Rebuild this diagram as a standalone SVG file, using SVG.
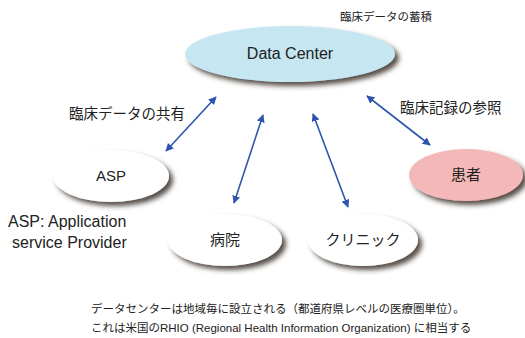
<svg xmlns="http://www.w3.org/2000/svg" width="525" height="338" viewBox="0 0 525 338">
<style>
text{font-family:"Liberation Sans","Noto Sans CJK JP",sans-serif;fill:#222}
.node{stroke:none}
.lbl{font-size:15px;text-anchor:middle}
.big{font-size:16px}
.conn line{stroke:#2d55ad;stroke-width:1.6;marker-start:url(#ah);marker-end:url(#ah)}
</style>
<defs>
<filter id="sh" x="-20%" y="-30%" width="150%" height="170%">
<feGaussianBlur in="SourceAlpha" stdDeviation="2.5"/>
<feOffset dx="4" dy="4" result="b"/>
<feFlood flood-color="#3a2f28" flood-opacity="0.85"/>
<feComposite in2="b" operator="in"/>
<feMerge><feMergeNode/><feMergeNode in="SourceGraphic"/></feMerge>
</filter>
<marker id="ah" viewBox="0 0 10 10" refX="9" refY="5" markerWidth="5" markerHeight="5" orient="auto-start-reverse">
<path d="M0,0 L10,5 L0,10 Z" fill="#2d55ad"/>
</marker>
</defs>
<rect width="525" height="338" fill="#fff"/>
<g class="conn">
<line x1="216" y1="97" x2="166" y2="151"/>
<line x1="263" y1="115" x2="234" y2="203"/>
<line x1="313" y1="114" x2="348" y2="207"/>
<line x1="367" y1="96" x2="430" y2="145"/>
</g>
<g id="datacenter">
<ellipse class="node" cx="290" cy="54" rx="105" ry="28" fill="#c6e6f1" filter="url(#sh)"/>
<text class="lbl big" x="290" y="59">Data Center</text>
</g>
<g id="asp">
<ellipse class="node" cx="111" cy="176" rx="58" ry="26" fill="#fff" filter="url(#sh)"/>
<text class="lbl" x="111" y="181">ASP</text>
</g>
<g id="hospital">
<ellipse class="node" cx="225" cy="240" rx="57" ry="26" fill="#fff" filter="url(#sh)"/>
<text class="lbl" x="225" y="245">病院</text>
</g>
<g id="clinic">
<ellipse class="node" cx="363" cy="240" rx="55" ry="26" fill="#fff" filter="url(#sh)"/>
<text class="lbl" x="363" y="245">クリニック</text>
</g>
<g id="patient">
<ellipse class="node" cx="466" cy="175" rx="57" ry="26" fill="#f4b8b8" filter="url(#sh)"/>
<text class="lbl" x="466" y="180">患者</text>
</g>
<text x="340" y="21" font-size="11.5">臨床データの蓄積</text>
<text x="69" y="119" font-size="14.5">臨床データの共有</text>
<text x="400" y="113" font-size="14.5">臨床記録の参照</text>
<text x="8" y="227" font-size="16">ASP: Application</text>
<text x="12" y="248" font-size="16">service Provider</text>
<text x="91" y="313" font-size="11.5">データセンターは地域毎に設立される（都道府県レベルの医療圏単位）。</text>
<text x="91" y="332" font-size="11.5">これは米国のRHIO (Regional Health Information Organization) に相当する</text>
</svg>
